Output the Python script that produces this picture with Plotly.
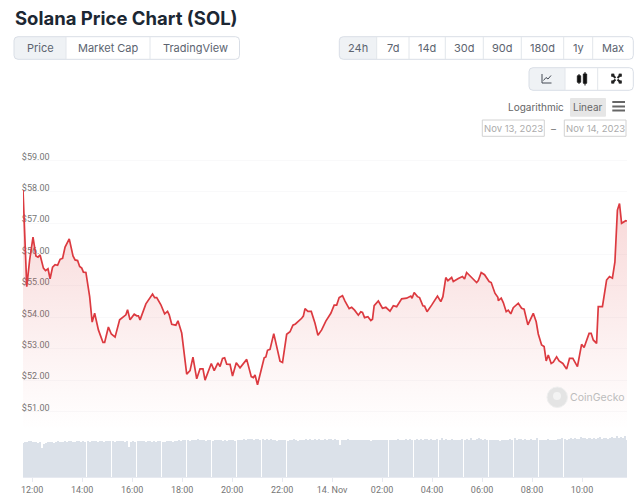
import pandas as pd
import plotly.graph_objects as go

# ---------- chart data ----------
START = pd.Timestamp("2023-11-13 12:00")
price_minutes = [-22,-19,-13,-6,2,9,14,19,27,32,38,43,49,55,61,67,73,79,89,98,103,109,114,119,123,129,138,144,150,159,
    170,174,183,190,199,210,218,225,229,235,245,251,255,259,273,289,294,299,309,318,325,329,335,345,350,359,371,379,386,395,
    403,410,415,427,430,437,446,451,457,462,467,475,481,490,499,515,526,531,535,541,547,557,561,565,571,580,595,601,611,619,
    626,632,647,651,655,662,670,679,686,695,705,717,725,731,737,745,751,761,767,774,783,789,793,798,806,813,817,821,831,841,
    849,859,867,875,887,899,909,912,917,925,930,938,942,948,959,973,981,986,993,998,1007,1011,1023,1033,1038,1043,1055,1067,1071,1078,
    1086,1097,1102,1111,1118,1119,1126,1131,1138,1143,1149,1155,1167,1175,1181,1190,1203,1210,1215,1223,1229,1234,1239,1246,1251,1259,1265,1274,1283,1290,
    1298,1309,1319,1325,1337,1342,1347,1355,1359,1369,1379,1386,1393,1399,1405,1410,1415,1425,1428]
prices = [58.06,57.05,54.98,55.83,56.56,55.96,55.92,55.99,55.57,55.49,55.55,55.23,55.6,55.68,55.66,55.85,55.88,56.24,56.5,55.96,55.83,55.81,55.62,55.57,55.44,55.43,54.66,53.85,54.13,53.6,
    53.2,53.2,53.69,53.47,53.37,53.92,54.0,54.08,54.24,53.92,54.1,54.05,54.05,53.92,54.43,54.74,54.63,54.63,54.4,54.11,54.19,54.08,53.78,53.75,53.89,53.5,52.19,52.3,52.73,52.04,
    52.36,52.36,52.0,52.48,52.53,52.3,52.55,52.43,52.69,52.71,52.51,52.5,52.13,52.55,52.39,52.66,52.11,52.08,52.16,51.85,52.19,52.71,52.74,52.95,52.98,53.48,52.6,52.56,53.46,53.54,
    53.75,53.79,53.97,54.04,54.28,54.19,54.19,53.81,53.43,53.6,53.88,54.13,54.39,54.39,54.63,54.69,54.52,54.28,54.32,54.23,54.07,54.18,54.16,53.99,54.02,53.9,53.94,54.37,54.52,54.29,
    54.32,54.2,54.37,54.34,54.59,54.61,54.68,54.61,54.79,54.66,54.63,54.37,54.36,54.18,54.39,54.68,54.5,54.66,55.27,55.17,55.27,55.14,55.24,55.3,55.22,55.43,55.27,55.11,55.17,55.43,
    55.36,55.14,55.11,54.77,54.64,54.53,54.61,54.47,54.18,54.23,54.11,54.31,54.45,54.29,54.26,53.76,54.13,53.86,53.47,53.12,53.07,52.61,52.8,52.53,52.57,52.74,52.61,52.53,52.35,52.69,
    52.69,52.43,53.14,53.04,53.49,53.49,53.28,53.17,54.34,54.34,55.19,55.3,55.25,55.77,57.42,57.63,57.0,57.08,57.07]
volumes = [34,35,35,36,36,35,35,34,35,29,33,34,35,35,35,34,35,36,35,35,36,35,36,36,35,35,36,36,35,36,
    35,36,35,36,36,36,35,36,36,35,36,36,36,36,35,36,36,36,36,35,36,30,35,36,35,36,36,36,36,35,
    36,36,35,36,35,36,36,35,35,36,36,36,35,36,36,37,36,37,37,37,36,37,37,37,38,37,37,37,36,37,
    37,36,37,37,37,37,36,37,36,37,37,37,36,37,37,37,38,37,38,38,38,37,38,38,37,38,37,38,37,38,
    37,37,36,37,37,37,37,36,37,37,38,37,36,37,37,37,38,37,38,37,38,37,38,37,37,38,37,38,38,37,
    38,37,32,37,37,37,38,37,37,37,37,37,37,37,37,37,37,36,37,37,37,37,37,37,37,37,37,37,37,37,
    38,37,37,37,38,37,38,37,37,38,37,38,37,38,38,37,38,37,37,38,37,39,37,38,37,37,38,37,37,37,
    37,38,37,38,37,39,37,37,38,39,38,37,38,37,37,37,37,37,37,36,37,37,37,37,38,37,39,37,38,38,
    37,38,37,37,38,37,37,39,37,37,37,37,38,37,37,37,37,38,38,39,38,37,38,39,38,39,38,38,40,39,
    39,38,39,38,39,38,39,40,38,39,39,38,39,40,39,41,39,40,39,41,37]
tick_minutes = [0,120,240,360,480,600,720,840,960,1080,1200,1320]
tick_labels = ["12:00","14:00","16:00","18:00","20:00","22:00","14. Nov","02:00","04:00","06:00","08:00","10:00"]
price_ticks = [51,52,53,54,55,56,57,58,59]
tabs_left = ["Price","Market Cap","TradingView"]
tabs_right = ["24h","7d","14d","30d","90d","180d","1y","Max"]

# ---------- helpers ----------
W, H = 640, 500
PX = lambda x: (x - 2 + x / 320) / W
PY = lambda y: 1 - y / H
def when(m):
    return START + pd.Timedelta(minutes=m)

def rr(x0, y0, x1, y1, r=4, left=True, right=True):
    rl = r if left else 0
    rr_ = r if right else 0
    p = [f"M{PX(x0+rl)},{PY(y0)}", f"L{PX(x1-rr_)},{PY(y0)}"]
    if rr_: p.append(f"Q{PX(x1)},{PY(y0)} {PX(x1)},{PY(y0+rr_)}")
    p.append(f"L{PX(x1)},{PY(y1-rr_)}")
    if rr_: p.append(f"Q{PX(x1)},{PY(y1)} {PX(x1-rr_)},{PY(y1)}")
    p.append(f"L{PX(x0+rl)},{PY(y1)}")
    if rl: p.append(f"Q{PX(x0)},{PY(y1)} {PX(x0)},{PY(y1-rl)}")
    p.append(f"L{PX(x0)},{PY(y0+rl)}")
    if rl: p.append(f"Q{PX(x0)},{PY(y0)} {PX(x0+rl)},{PY(y0)}")
    return " ".join(p) + " Z"

shapes, annots = [], []
def path(d, fill="rgba(0,0,0,0)", line="#d9dee6", w=1):
    shapes.append(dict(type="path", xref="paper", yref="paper", path=d, fillcolor=fill, line=dict(color=line, width=w), layer="above"))
def seg(x0, y0, x1, y1, color="#e2e6eb", w=1):
    shapes.append(dict(type="line", xref="paper", yref="paper", x0=PX(x0), y0=PY(y0), x1=PX(x1), y1=PY(y1), line=dict(color=color, width=w), layer="above"))
def label(x, y, s, size=11, color="#5c6470", fam="Inter, sans-serif", anchor="center"):
    annots.append(dict(xref="paper", yref="paper", x=PX(x), y=PY(y), text=s, showarrow=False, xanchor=anchor, yanchor="middle",
                       font=dict(size=size, color=color, family=fam), borderpad=0))

# ---------- figure ----------
P_TOP, P_BOT = 150.0, 430.0
GRID59 = 160.5
UNIT = 31.37
top_price = 59 + (GRID59 - P_TOP) / UNIT
bottom_price = 59 - (P_BOT - GRID59) / UNIT
V_BOT, V_TOP = 477.0, 433.0

fig = go.Figure()
t = [when(m) for m in price_minutes]
fig.add_trace(go.Scatter(x=t, y=[bottom_price] * len(t), mode="lines", line=dict(width=0), hoverinfo="skip", showlegend=False))
fig.add_trace(go.Scatter(x=t, y=prices, mode="lines", line=dict(color="#dc3a40", width=1.7), fill="tonexty",
    fillgradient=dict(type="vertical", start=58.0, stop=bottom_price,
                      colorscale=[[0, "rgba(222,70,70,0.22)"], [0.75, "rgba(222,70,70,0.05)"], [1, "rgba(222,70,70,0.0)"]]),
    showlegend=False))
vol_x = pd.date_range(when(price_minutes[0]), periods=len(volumes), freq="5min")
fig.add_trace(go.Bar(x=vol_x, y=volumes, marker=dict(color="#dbe1e9", line=dict(width=0)), width=4.85 * 60000, yaxis="y2", showlegend=False))

# header tabs
path(rr(14, 36.7, 66, 59.3, left=True, right=False), fill="#eff2f5", line="rgba(0,0,0,0)")
path(rr(14, 36.7, 239.5, 59.3))
seg(66, 36.7, 66, 59.3); seg(150, 36.7, 150, 59.3)
for cx, s in zip([40, 108, 195], tabs_left):
    label(cx, 48.5, s)
path(rr(339.3, 36.7, 376.7, 59.3, left=True, right=False), fill="#eff2f5", line="rgba(0,0,0,0)")
path(rr(339.3, 36.7, 633.3, 59.3))
for dx in [376.7, 409, 445.3, 483.3, 521.3, 563.7, 592.7]:
    seg(dx, 36.7, dx, 59.3)
for cx, s in zip([358, 392.5, 426.5, 464, 502, 542, 578, 613], tabs_right):
    label(cx, 48.5, s)
path(rr(529, 67.7, 565, 90.3, left=True, right=False), fill="#eff2f5", line="rgba(0,0,0,0)")
path(rr(529, 67.7, 633.3, 90.3))
seg(565, 67.7, 565, 90.3); seg(597.7, 67.7, 597.7, 90.3)
# line icon
path(f"M{PX(542)},{PY(74)} L{PX(542)},{PY(83)} L{PX(551.5)},{PY(83)}", line="#444b55", w=1)
path(f"M{PX(543.5)},{PY(80.5)} L{PX(546)},{PY(77.5)} L{PX(548)},{PY(79)} L{PX(551)},{PY(75.5)}", line="#444b55", w=1)
# candlestick icon
path(rr(577.2, 75.5, 580.8, 82.5, r=0.5), fill="#111", line="#111", w=0.5)
path(rr(583.2, 73.8, 586.8, 83.5, r=0.5), fill="#111", line="#111", w=0.5)
seg(585, 72, 585, 85.5, color="#111", w=1)
seg(579, 74, 579, 84, color="#111", w=1)
# expand icon
for a, b, c, d in [(612, 74.5, 615.5, 78), (621, 74.5, 617.5, 78), (612, 82.8, 615.5, 79.5), (621, 82.8, 617.5, 79.5)]:
    seg(a, b, c, d, color="#222", w=2)
for cx, cy in [(612.8, 75.2), (620.2, 75.2), (612.8, 82), (620.2, 82)]:
    path(rr(cx - 1.3, cy - 1.3, cx + 1.3, cy + 1.3, r=0), fill="#222", line="#222", w=0.5)
# scale selector
label(536, 107, "Logarithmic", size=10, color="#666", fam="Inter, sans-serif")
path(rr(570, 98, 606, 116.7, r=1), fill="#e6e6e6", line="rgba(0,0,0,0)")
label(588, 107.5, "Linear", size=10, color="#666")
for hy in [102, 106.5, 110.5]:
    seg(612.3, hy, 625, hy, color="#666", w=2)
# date boxes
path(rr(482.3, 120, 544.3, 136.3, r=0), line="#d2d2d2")
path(rr(564.3, 120, 626, 136.3, r=0), line="#d2d2d2")
label(513.3, 128.3, "Nov 13, 2023", size=9.5, color="#ababab")
label(595.2, 128.3, "Nov 14, 2023", size=9.5, color="#ababab")
label(553.5, 128.5, "–", size=10, color="#777")
# title
label(14, 17.5, "<b>Solana Price Chart (SOL)</b>", size=18.5, color="#1c2733", fam="Inter, sans-serif", anchor="left")
# watermark
shapes.append(dict(type="circle", xref="paper", yref="paper", x0=PX(547), x1=PX(567.5), y0=PY(407.5), y1=PY(387), fillcolor="#e4e4e4", line=dict(color="#efefef", width=1), layer="above"))
shapes.append(dict(type="circle", xref="paper", yref="paper", x0=PX(553), x1=PX(561), y0=PY(400), y1=PY(392), fillcolor="#f3f3f3", line=dict(width=0), layer="above"))
label(597, 397, "CoinGecko", size=10.5, color="#bcbcbc")

fig.update_layout(
    width=W, height=H, autosize=False, margin=dict(l=0, r=0, t=0, b=0),
    paper_bgcolor="white", plot_bgcolor="rgba(0,0,0,0)", bargap=0, barmode="overlay",
    font=dict(family="Roboto, sans-serif", color="#777"), shapes=shapes, annotations=annots,
    xaxis=dict(domain=[PX(23), PX(627)], range=[when(-22), when(1428)], type="date", anchor="y2",
               tickvals=[when(m) for m in tick_minutes], ticktext=tick_labels, tickangle=0,
               tickfont=dict(size=9, color="#757575"), ticks="outside", ticklen=4, tickcolor="#e6e9f0",
               showgrid=False, showline=True, linecolor="#e6e9f0", linewidth=1, zeroline=False),
    yaxis=dict(domain=[PY(P_BOT), PY(P_TOP)], range=[bottom_price, top_price], tickvals=price_ticks, tickformat="$.2f",
               anchor="free", position=PX(49.5), side="left", ticklabelshift=-4, tickfont=dict(size=9, color="#757575"),
               showgrid=True, gridcolor="#f9f9fa", gridwidth=1, zeroline=False, showline=False, ticks="", layer="below traces"),
    yaxis2=dict(domain=[PY(V_BOT), PY(V_TOP)], range=[0, V_BOT - V_TOP], showticklabels=False, showgrid=False, zeroline=False, showline=False, ticks=""),
)
fig.write_html("out.html", config=dict(displayModeBar=False), post_script="document.body.style.margin='0';document.body.style.overflow='hidden';")
